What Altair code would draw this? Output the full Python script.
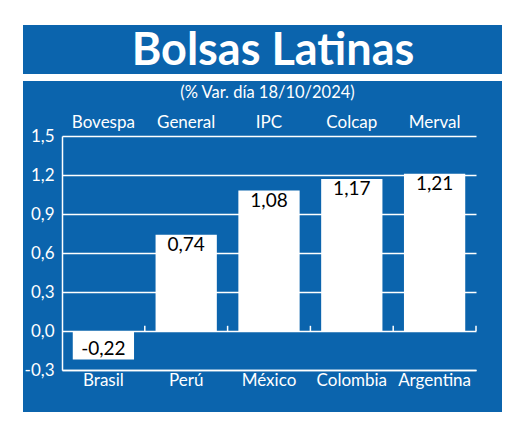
import altair as alt
import pandas as pd

countries = ["Brasil", "Perú", "México", "Colombia", "Argentina"]
indices = ["Bovespa", "General", "IPC", "Colcap", "Merval"]
values = [-0.22, 0.74, 1.08, 1.17, 1.21]
y_ticks = [-0.3, 0.0, 0.3, 0.6, 0.9, 1.2, 1.5]
title_text = "Bolsas Latinas"
subtitle_text = "(% Var. día 18/10/2024)"

BLUE = "#0b64ad"
FONT = "Lato"

df = pd.DataFrame({"country": countries, "index": indices, "value": values})
one = pd.DataFrame({"k": [0]})

num_expr = "replace(replace(format(datum.value, '.2f'), '.', ','), '−', '-')"
axis_expr = "replace(replace(format(datum.value, '.1f'), '.', ','), '−', '-')"

x_enc = alt.X(
    "country:N",
    sort=countries,
    scale=alt.Scale(paddingInner=0, paddingOuter=0),
    axis=alt.Axis(
        title=None, labelAngle=0, labelColor="white", labelFontSize=17,
        labelFont=FONT, labelPadding=2, ticks=False, domain=True,
        domainColor="white", domainWidth=1.5, labelOverlap=False,
    ),
)
y_enc = alt.Y(
    "value:Q",
    scale=alt.Scale(domain=[-0.3, 1.5], nice=False, zero=False),
    axis=alt.Axis(
        title=None, values=y_ticks, tickCount=20, labelExpr=axis_expr,
        labelColor="white", labelFontSize=17, labelFont=FONT, labelPadding=8,
        ticks=False, domain=True, domainColor="white", domainWidth=1.5,
        grid=True, gridColor="white", gridWidth=1.5, gridOpacity=1,
        labelOverlap=False, labelFlush=False,
    ),
)


def deco_rect(x, x2, y, y2):
    return alt.Chart(one).mark_rect(color="white").encode(
        x=alt.value(x), x2=alt.value(x2), y=alt.value(y), y2=alt.value(y2)
    )


white_top = deco_rect(-54, 450, -128, -111)
white_gap = deco_rect(-54, 450, -62, -55)
white_left = deco_rect(-54, -39, -128, 276)

title = alt.Chart(pd.DataFrame({"t": [title_text]})).mark_text(
    font=FONT, fontSize=45, fontWeight="bold", color="white", baseline="alphabetic"
).encode(x=alt.value(211), y=alt.value(-71), text="t:N")

subtitle = alt.Chart(pd.DataFrame({"t": [subtitle_text]})).mark_text(
    font=FONT, fontSize=16.5, color="white", baseline="middle"
).encode(x=alt.value(205.5), y=alt.value(-43), text="t:N")

base = alt.Chart(df)

bars = base.mark_bar(color="white", width={"band": 0.74}).encode(x=x_enc, y=y_enc)

zero_ticks = base.mark_rule(color="white", strokeWidth=1.5).encode(
    x=alt.X("country:N", sort=countries, bandPosition=1),
    y=alt.datum(0),
    y2=alt.datum(0.04),
)

lab_pos = base.transform_filter("datum.value >= 0").transform_calculate(
    label=num_expr
).mark_text(font=FONT, fontSize=19, color="black", baseline="alphabetic", dy=16).encode(
    x=alt.X("country:N", sort=countries), y="value:Q", text="label:N"
)

lab_neg = base.transform_filter("datum.value < 0").transform_calculate(
    label=num_expr
).mark_text(font=FONT, fontSize=19, color="black", baseline="alphabetic", dy=-5).encode(
    x=alt.X("country:N", sort=countries), y="value:Q", text="label:N"
)

idx_names = base.mark_text(font=FONT, fontSize=17, color="white", baseline="middle").encode(
    x=alt.X("country:N", sort=countries), y=alt.value(-13), text="index:N"
)

chart = alt.layer(
    bars, zero_ticks, lab_pos, lab_neg, idx_names,
    white_top, white_gap, white_left, title, subtitle,
).properties(
    width=414, height=234,
    padding={"left": 54, "top": 128, "right": 26, "bottom": 42},
    autosize=alt.AutoSizeParams(type="none"),
).configure(
    background=BLUE, font=FONT,
).configure_view(stroke=None)

chart.save("out.html", embed_options={"renderer": "svg", "actions": False})
